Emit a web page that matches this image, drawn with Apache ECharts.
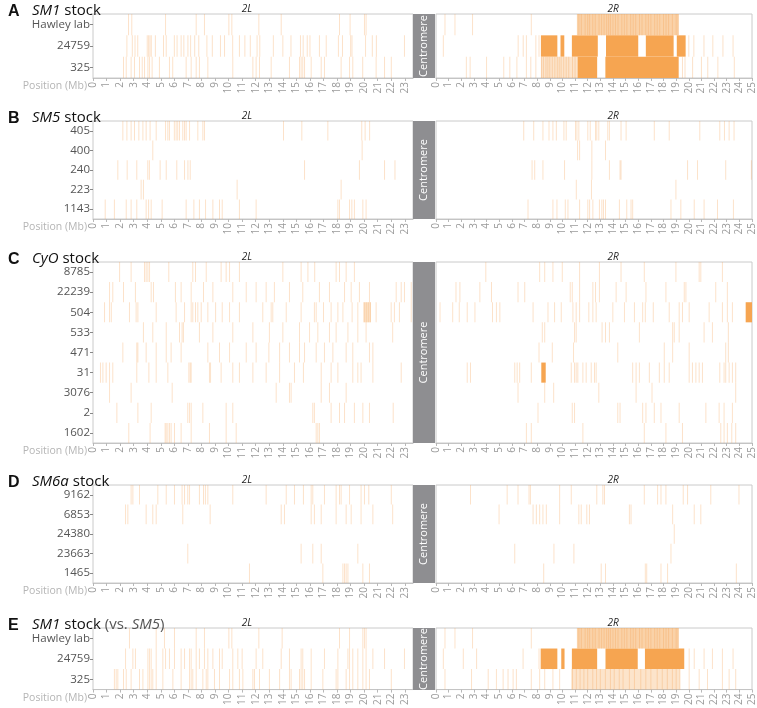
<!DOCTYPE html>
<html>
<head>
<meta charset="utf-8">
<script src="https://cdn.jsdelivr.net/npm/echarts@6/dist/echarts.min.js"></script>
<style>
html,body{margin:0;padding:0;background:#fff}
#chart{width:757px;height:708px}
</style>
</head>
<body>
<div id="chart"></div>
<script>
// tick labels (Mb) for each arm
var tickL = [0,1,2,3,4,5,6,7,8,9,10,11,12,13,14,15,16,17,18,19,20,21,22,23];
var tickR = [0,1,2,3,4,5,6,7,8,9,10,11,12,13,14,15,16,17,18,19,20,21,22,23,24,25];

// ---- A: SM1 stock ----
var rowsA = ['Hawley lab', '24759', '325'];
var A_L = [
  [2.62,2.86,5.35,7.61,8.22,10.02,10.24,12.23,13.88,18.18,18.96,20.02,20.14],
  [2.5,2.9,3.1,3.3,4.0,4.1,4.2,4.3,4.6,5.2,5.4,6.0,6.2,6.5,6.7,7.0,7.2,7.5,7.8,8.4,8.8,9.4,9.7,10.3,10.8,11.2,11.6,12.1,12.3,13.3,14.0,14.6,15.3,15.5,15.8,16.0,16.7,17.2,18.1,18.4,19.0,19.1,20.1,20.6,20.9,22.97],
  [2.25,2.45,2.81,3.06,3.43,3.63,3.8,4.05,4.17,4.36,4.9,5.64,5.88,6.87,7.24,7.61,7.85,8.47,10.31,11.79,12.03,12.28,13.14,14.49,15.23,15.35,15.47,15.6,16.09,16.83,17.07,18.3,18.92,19.16,19.89,20.88,21.5,22.0]
];
var A_R = [
  [0.71,1.5,2.89,7.54,11.3,11.5,11.8,12.0,12.15,12.4,12.6,12.9,13.1,13.3,13.5,13.65,13.8,14.0,14.2,14.4,14.7,14.9,15.1,15.4,15.6,15.8,16.1,16.3,16.6,16.8,17.0,17.3,17.5,17.7,18.0,18.2,18.4,18.7,19.0,19.15],
  [0.58,6.5,6.9,7.15,7.9,8.15,20.0,20.4,21.2,21.9,22.7,23.5],
  [2.4,2.7,4.0,5.36,5.84,6.4,7.15,7.5,7.9,8.35,8.5,8.7,8.85,9.0,9.2,9.4,9.6,9.75,9.9,10.1,10.3,10.5,10.8,11.0,19.5,19.7,20.3,21.0,21.5,22.3,23.6]
];
var A_R_dense = [[[11.15,19.2]], [], []];   // densely polymorphic stretch
var A_R_shade = [[], [], [[8.3,11.2]]];      // lighter polymorphic stretch
var A_R_solid = [[], [[8.3,9.6],[9.85,10.15],[10.75,12.8],[13.45,16.0],[16.6,18.8],[19.05,19.75]], [[11.2,12.75],[13.4,19.2]]];

// ---- B: SM5 stock ----
var rowsB = ['405', '400', '240', '223', '1143'];
var B_L = [
  [2.2,2.5,2.81,3.06,3.38,3.68,3.92,4.21,4.66,5.35,5.52,5.64,6.0,6.13,6.25,6.38,6.62,6.75,6.87,7.12,7.73,8.1,8.22,14.05,15.4,17.32,19.82,20.07,20.4],
  [4.41,19.85],
  [1.83,2.52,3.23,4.04,4.16,4.95,5.4,6.18,6.75,7.0,7.17,15.6,19.65,21.5,22.27],
  [3.55,3.72,10.63,18.3],
  [0.9,1.58,2.45,2.81,3.23,3.92,4.1,4.29,5.1,6.87,7.44,7.85,8.3,8.84,9.33,9.53,10.8,12.03,18.06,18.18,18.92,19.09,19.28,19.9,20.14]
];
var B_R = [
  [6.94,7.73,8.46,8.94,9.25,9.52,10.12,10.3,11.04,11.15,11.3,12.01,12.2,12.62,12.72,12.88,13.59,13.72,14.64,15.04,17.27,18.45,20.87,22.45,22.82,23.19,23.58],
  [11.2,11.36,12.33,13.41],
  [7.6,7.81,8.46,10.17,12.33,13.72,14.56,14.64,19.9,20.69,22.92,24.95],
  [11.1,12.3,18.98],
  [7.28,9.25,9.57,10.23,10.44,11.36,12.01,12.15,12.41,12.93,13.12,13.25,13.41,14.51,15.09,15.43,15.56,18.59,19.37,20.43,21.21,22.27,23.53]
];

// ---- C: CyO stock ----
var rowsC = ['8785', '22239', '504', '533', '471', '31', '3076', '2', '1602'];
var C_L = [
  [1.96,2.81,3.8,3.92,4.05,4.17,5.59,7.36,7.56,8.35,9.45,9.82,10.07,10.8,14.0,15.35,15.85,16.35,17.93,18.18,18.67,19.28],
  [1.22,1.46,2.25,3.13,4.29,4.46,6.08,6.5,7.24,8.15,8.84,10.31,11.3,12.03,12.77,13.38,14.49,15.47,16.7,17.44,18.55,19.04,19.65,20.39,22.36,22.73,22.97,23.47],
  [0.85,1.22,1.35,2.69,3.18,3.31,4.66,6.13,6.75,7.24,7.36,7.56,7.73,7.98,8.47,9.04,9.53,10.07,10.8,12.52,13.14,13.26,14.25,15.35,16.33,16.46,17.0,17.56,18.06,18.43,19.11,19.53,20.0,20.15,20.3,20.45,20.88,21.99,22.23,22.6,23.47],
  [3.72,4.41,5.4,6.38,6.57,6.67,7.85,8.84,10.31,11.79,13.01,14.0,15.23,15.97,16.58,17.44,17.93,18.8,19.53,20.14,22.1],
  [2.2,3.23,3.31,3.92,4.66,5.4,5.76,6.5,8.47,9.33,10.07,11.3,12.03,12.97,13.76,14.49,15.23,15.6,16.46,17.07,17.69,18.67,19.16,20.39,20.64],
  [0.55,0.73,0.97,1.22,1.46,3.23,4.12,4.66,5.52,7.07,7.17,7.24,8.59,8.67,9.45,10.31,10.8,11.79,12.77,13.76,14.86,15.52,16.83,17.56,18.06,19.16,19.53,19.77,20.64,22.73],
  [1.22,2.81,5.84,13.51,14.49,14.61,16.83,17.44,18.67],
  [1.76,3.31,4.29,6.99,7.12,7.24,8.1,9.82,10.31,16.21,16.33,17.56,18.18,18.55,19.28,19.9,20.39,22.14],
  [2.64,4.21,5.32,5.4,5.52,5.64,5.76,6.01,6.5,7.24,8.59,9.82,10.56,16.46,16.58,16.7]
];
var C_L_shade = [[], [], [[19.95,20.5]], [], [], [], [], [], []];
var C_R = [
  [3.94,8.2,8.6,9.25,9.99,11.36,12.93,14.64,16.48,18.98,20.82,20.95,22.66],
  [1.58,1.89,3.47,4.39,6.49,7.02,10.62,10.78,11.36,12.41,12.62,12.93,14.25,15.04,16.61,18.19,19.64,19.77,22.13,23.05],
  [0.32,1.32,1.84,2.47,3.08,4.47,4.78,5.05,7.68,8.86,9.38,9.91,10.83,11.09,11.36,12.09,12.41,12.67,13.99,14.91,15.7,16.35,16.56,17.19,18.45,19.24,19.5,20.03,21.61,22.66,23.05,23.45],
  [8.41,8.6,10.96,11.09,13.14,13.41,13.72,16.09,18.72,18.85,19.24,21.21,21.87,23.13],
  [8.15,9.2,10.88,14.38,18.06,18.72,20.03,22.92,23.13],
  [2.47,2.73,6.23,6.42,6.62,7.54,10.7,10.96,11.09,11.22,11.62,11.88,12.28,12.54,12.67,15.56,15.83,16.09,16.88,17.67,18.06,18.45,20.03,20.29,20.56,20.82,21.08,22.45,22.79,22.92,23.19,23.45,23.71],
  [6.49,8.6,9.31,12.88,15.83,17.09,23.71],
  [8.07,10.78,10.96,14.38,14.56,16.35,16.61,17.27,17.8,19.24,21.35,22.4,22.79,23.45],
  [7.15,7.54,11.62,16.48,18.19,19.5,22.53,22.79,23.05,23.4,23.71]
];
var C_R_solid = [[], [], [[24.5,25.0]], [], [], [[8.33,8.68]], [], [], []];

// ---- D: SM6a stock ----
var rowsD = ['9162', '6853', '24380', '23663', '1465'];
var D_L = [
  [2.81,2.94,3.43,4.78,5.4,6.01,6.57,6.75,6.99,7.12,7.85,8.15,8.29,8.47,10.31,12.77,14.25,14.86,15.52,16.09,16.21,17.07,17.93,18.18,18.3,18.92,19.77,20.02,20.34,22.0],
  [2.4,2.57,3.92,4.41,4.66,6.62,8.64,13.88,14.12,16.09,16.33,16.83,17.93,18.67,19.04,19.77,20.64,22.1],
  [],
  [6.99,15.35,16.21,16.83,19.53],
  [11.54,16.95,18.43,18.55,18.67,18.8,19.9,20.39]
];
var D_R = [
  [2.73,5.63,6.49,7.36,7.47,9.78,10.7,12.72,13.2,13.33,16.48,17.53,17.8,18.19,19.56,19.9,21.74,23.97],
  [4.99,7.68,7.94,8.2,8.46,8.73,9.78,11.3,11.49,11.93,12.14,15.3,15.43,18.72,20.43,20.95],
  [18.85],
  [6.23,9.33,10.91,18.59],
  [8.52,13.07,13.41,16.56,16.67,17.8,18.32,23.76]
];

// ---- E: SM1 stock (vs. SM5) ----
var rowsE = ['Hawley lab', '24759', '325'];
var E_L = [
  [2.69,4.66,5.27,6.01,7.61,8.22,10.02,10.24,12.23,13.95,18.18,18.92,19.9,20.02,20.14],
  [2.4,2.94,3.13,4.05,4.17,4.29,4.66,5.15,5.35,5.64,6.01,6.5,6.75,7.12,7.24,7.61,7.85,8.22,8.47,8.84,9.33,9.53,10.31,10.68,11.0,12.03,12.52,13.88,14.49,15.35,15.47,16.09,17.07,18.06,18.8,18.92,19.16,19.53,19.9,20.14,20.64,21.5,22.97],
  [1.58,1.71,1.83,2.25,2.45,2.81,3.43,3.68,4.05,4.17,4.29,4.41,4.66,5.15,5.89,6.5,7.12,7.24,7.36,7.61,8.1,8.35,8.47,8.96,9.33,10.07,10.31,10.8,11.05,11.79,11.91,12.28,13.01,13.76,14.49,14.61,15.23,15.35,15.47,15.6,16.09,16.95,17.93,18.06,18.67,18.92,19.16,19.53,19.9,20.14,20.39,22.0]
];
var E_R = [
  [0.71,1.5,2.89,7.54,11.3,11.5,11.8,12.0,12.15,12.4,12.6,12.9,13.1,13.3,13.5,13.65,13.8,14.0,14.2,14.4,14.7,14.9,15.1,15.4,15.6,15.8,16.1,16.3,16.6,16.8,17.0,17.3,17.5,17.7,18.0,18.2,18.4,18.7,19.0,19.15],
  [0.58,2.16,3.21,6.89,8.15,20.03,20.43,21.21,21.87,22.66,23.5],
  [0.71,2.81,4.13,4.78,5.31,5.7,6.1,6.36,7.54,8.2,8.6,9.25,9.78,10.8,11.1,11.4,11.7,12.0,12.4,12.7,13.0,13.4,13.8,14.1,14.5,14.8,15.3,15.7,16.2,16.6,17.0,17.5,17.9,18.3,18.7,19.0,19.3,20.03,20.82,21.48,22.66,23.19,23.71]
];
var E_R_dense = [[[11.15,19.2]], [], []];
var E_R_shade = [[], [], [[10.7,19.3]]];
var E_R_solid = [[], [[8.28,9.6],[9.91,10.17],[10.75,12.75],[13.41,15.96],[16.53,19.64]], []];

// ------------------------------------------------------------
var panels = [
  {tag: 'A', name: '{i|SM1}{n| stock}', rows: rowsA, L: A_L, R: A_R, Rshade: A_R_shade, Rdense: A_R_dense, Rsolid: A_R_solid, top: 14, height: 64},
  {tag: 'B', name: '{i|SM5}{n| stock}', rows: rowsB, L: B_L, R: B_R, top: 121, height: 98},
  {tag: 'C', name: '{i|CyO}{n| stock}', rows: rowsC, L: C_L, R: C_R, Lshade: C_L_shade, Rsolid: C_R_solid, top: 262, height: 181},
  {tag: 'D', name: '{i|SM6a}{n| stock}', rows: rowsD, L: D_L, R: D_R, top: 485, height: 98},
  {tag: 'E', name: '{i|SM1}{n| stock}{l| (vs. }{il|SM5}{l|)}', rows: rowsE, L: E_L, R: E_R, Rshade: E_R_shade, Rdense: E_R_dense, Rsolid: E_R_solid, top: 628, height: 62}
];

var FONT = '"Open Sans", "Noto Sans", sans-serif';
// 0 single line, 1 light stretch, 2 solid block, 3 dense stretch
var markColors = ['rgba(245,160,78,0.3)', 'rgba(246,165,82,0.3)', '#F6A551', 'rgba(246,165,82,0.5)'];

function buildMarks(lines, shade, solid, dense) {
  var out = [];
  (shade || []).forEach(function (segs, r) { segs.forEach(function (s) { out.push([s[0], s[1], r, 1]); }); });
  (dense || []).forEach(function (segs, r) { segs.forEach(function (s) { out.push([s[0], s[1], r, 3]); }); });
  lines.forEach(function (xs, r) { xs.forEach(function (x) { out.push([x, x, r, 0]); }); });
  (solid || []).forEach(function (segs, r) { segs.forEach(function (s) { out.push([s[0], s[1], r, 2]); }); });
  return out;
}

function renderMarks(params, api) {
  var kind = api.value(3);
  var p0 = api.coord([api.value(0), api.value(2)]);
  var p1 = api.coord([api.value(1), api.value(2)]);
  var h = api.size([0, 1])[1];
  var x = p0[0], w = p1[0] - p0[0];
  if (kind === 0) { x -= 0.5; w = 1; }
  var rect = echarts.graphic.clipRectByRect({x: x, y: p0[1] - h / 2, width: w, height: h}, params.coordSys);
  if (!rect) return;
  return {type: 'rect', shape: rect, style: {fill: markColors[kind]}};
}

var grids = [], xAxes = [], yAxes = [], series = [], titles = [], graphics = [];

panels.forEach(function (p, i) {
  var arms = [
    {left: 93, width: 320, max: 23.6, ticks: tickL, lines: p.L, shade: p.Lshade, solid: p.Lsolid, dense: null, label: '2L', lx: 247},
    {left: 436, width: 316, max: 25, ticks: tickR, lines: p.R, shade: p.Rshade, solid: p.Rsolid, dense: p.Rdense, label: '2R', lx: 613}
  ];
  arms.forEach(function (a, j) {
    var k = grids.length;
    grids.push({left: a.left, top: p.top, width: a.width, height: p.height, show: true, borderColor: '#cacaca', borderWidth: 1});
    xAxes.push({
      gridIndex: k, type: 'value', min: 0, max: a.max,
      axisLine: {show: true, lineStyle: {color: '#c4c4c4'}},
      axisTick: {show: true, length: 3, customValues: a.ticks, lineStyle: {color: '#b8b8b8'}},
      axisLabel: {rotate: 90, fontSize: 10, color: '#9a9a9a', fontFamily: FONT, margin: 4, customValues: a.ticks},
      splitLine: {show: false}
    });
    yAxes.push({
      gridIndex: k, type: 'category', data: p.rows, inverse: true, show: j === 0,
      axisLine: {show: false},
      axisTick: {show: true, length: 3, alignWithLabel: true, lineStyle: {color: '#888'}},
      axisLabel: {fontSize: 11.5, color: '#555', fontFamily: FONT, margin: 3}
    });
    series.push({
      type: 'custom', xAxisIndex: k, yAxisIndex: k, silent: true,
      renderItem: renderMarks, encode: {x: [0, 1], y: 2},
      data: buildMarks(a.lines, a.shade, a.solid, a.dense)
    });
    graphics.push({type: 'text', x: a.lx, y: p.top - 5, z: 100,
      style: {text: a.label, font: 'italic 10px ' + FONT, fill: '#222', align: 'center', verticalAlign: 'middle'}});
  });

  // panel heading
  titles.push({left: 3, top: p.top - 15, text: p.tag,
    textStyle: {fontSize: 16, fontWeight: 'bold', color: '#111', fontFamily: 'Liberation Sans, Arial, sans-serif'}});
  titles.push({left: 27, top: p.top - 16, text: p.name,
    textStyle: {fontWeight: 'normal', rich: {
      i: {fontSize: 15, fontStyle: 'italic', fontWeight: 'normal', color: '#111', fontFamily: FONT},
      n: {fontSize: 15, fontWeight: 'normal', color: '#111', fontFamily: FONT},
      l: {fontSize: 15, fontWeight: 'normal', color: '#555', fontFamily: FONT},
      il: {fontSize: 15, fontStyle: 'italic', fontWeight: 'normal', color: '#555', fontFamily: FONT}
    }}});

  // centromere block
  graphics.push({type: 'rect', z: 100, shape: {x: 413, y: p.top, width: 22, height: p.height}, style: {fill: '#8e8e91'}});
  graphics.push({type: 'text', z: 101, x: 424, y: p.top + p.height / 2, rotation: Math.PI / 2,
    style: {text: 'Centromere', font: '11px ' + FONT, fill: '#fff', align: 'center', verticalAlign: 'middle'}});

  // axis title
  graphics.push({type: 'text', x: 87, y: p.top + p.height + 8, z: 100,
    style: {text: 'Position (Mb)', font: '10.5px ' + FONT, fill: '#b5b5b5', align: 'right', verticalAlign: 'middle'}});
});

var chart = echarts.init(document.getElementById('chart'));
chart.setOption({
  animation: false,
  backgroundColor: '#fff',
  title: titles,
  grid: grids,
  xAxis: xAxes,
  yAxis: yAxes,
  series: series,
  graphic: graphics
});
</script>
</body>
</html>
